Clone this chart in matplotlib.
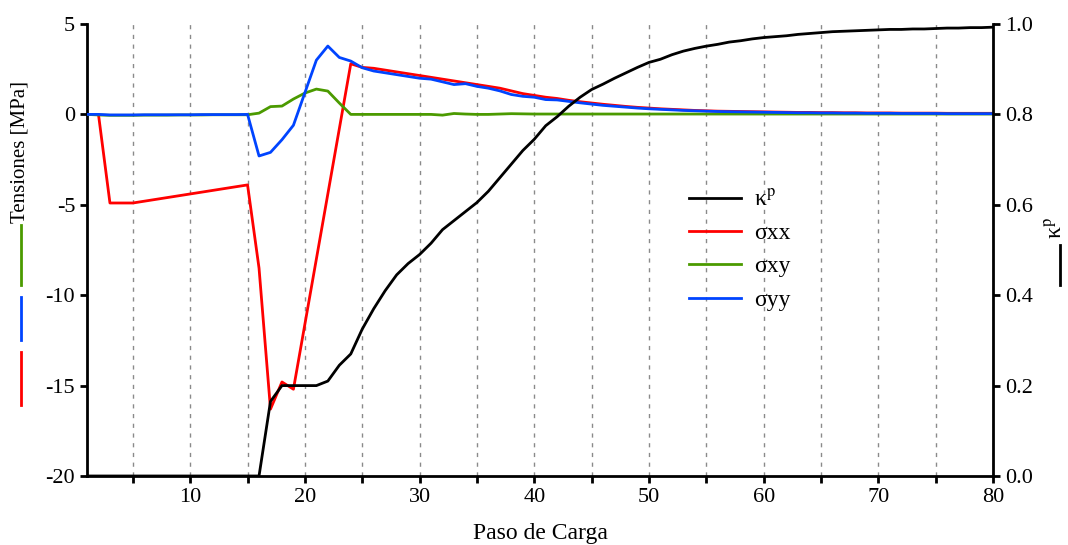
import matplotlib
matplotlib.use("Agg")
import matplotlib.pyplot as plt
from matplotlib.lines import Line2D
import numpy as np

plt.rcParams['font.family'] = ['Liberation Serif', 'DejaVu Serif']
plt.rcParams['mathtext.fontset'] = 'stix'

# ---- data ----
paso = list(range(1, 81))

sigma_xx = [0, 0, -4.9, -4.9, -4.9, -4.8, -4.7, -4.6, -4.5, -4.4,
            -4.3, -4.2, -4.1, -4.0, -3.9, -8.5, -16.3, -14.8, -15.2, -11.6,
            -8.0, -4.4, -0.8, 2.8, 2.6, 2.55, 2.45, 2.35, 2.25, 2.15,
            2.05, 1.95, 1.85, 1.75, 1.65, 1.55, 1.45, 1.3, 1.15, 1.05,
            0.95, 0.88, 0.78, 0.70, 0.63, 0.56, 0.50, 0.44, 0.39, 0.35,
            0.31, 0.28, 0.25, 0.22, 0.20, 0.18, 0.17, 0.16, 0.15, 0.14,
            0.13, 0.12, 0.11, 0.11, 0.10, 0.10, 0.09, 0.09, 0.08, 0.08,
            0.08, 0.07, 0.07, 0.07, 0.07, 0.06, 0.06, 0.06, 0.06, 0.06]

sigma_xy = [0, -0.03, -0.05, -0.05, -0.05, -0.04, -0.04, -0.04, -0.03, -0.03,
            -0.03, -0.02, -0.02, -0.02, -0.02, 0.07, 0.43, 0.46, 0.85, 1.18,
            1.4, 1.29, 0.63, 0.0, 0.0, 0.0, 0.0, 0.0, 0.0, 0.0,
            0.0, -0.04, 0.05, 0.02, 0.0, 0.0, 0.02, 0.04, 0.03, 0.02,
            0.02, 0.02, 0.02, 0.02, 0.02, 0.02, 0.02, 0.02, 0.02, 0.02,
            0.02, 0.02, 0.02, 0.02, 0.02, 0.02, 0.02, 0.02, 0.02, 0.02,
            0.02, 0.02, 0.02, 0.02, 0.02, 0.02, 0.02, 0.02, 0.02, 0.02,
            0.02, 0.02, 0.02, 0.02, 0.02, 0.02, 0.02, 0.02, 0.02, 0.02]

sigma_yy = [0, 0, -0.03, -0.03, -0.03, -0.02, -0.02, -0.02, -0.02, -0.02,
            -0.01, -0.01, -0.01, -0.01, 0.0, -2.3, -2.1, -1.4, -0.6, 1.2,
            3.0, 3.78, 3.15, 2.95, 2.58, 2.4, 2.3, 2.2, 2.1, 2.0,
            1.95, 1.8, 1.65, 1.7, 1.55, 1.45, 1.3, 1.1, 1.0, 0.95,
            0.82, 0.80, 0.72, 0.64, 0.57, 0.50, 0.45, 0.40, 0.35, 0.31,
            0.28, 0.25, 0.22, 0.20, 0.18, 0.16, 0.15, 0.14, 0.13, 0.12,
            0.11, 0.10, 0.09, 0.09, 0.08, 0.08, 0.07, 0.07, 0.06, 0.06,
            0.06, 0.05, 0.05, 0.05, 0.05, 0.04, 0.04, 0.04, 0.04, 0.04]

kappa_p = [0, 0, 0, 0, 0, 0, 0, 0, 0, 0,
           0, 0, 0, 0, 0, 0, 0.165, 0.20, 0.20, 0.20,
           0.20, 0.21, 0.245, 0.27, 0.325, 0.37, 0.41, 0.445, 0.47, 0.49,
           0.515, 0.545, 0.565, 0.585, 0.605, 0.63, 0.66, 0.69, 0.72, 0.745,
           0.775, 0.795, 0.818, 0.838, 0.855, 0.867, 0.88, 0.892, 0.904, 0.915,
           0.922, 0.932, 0.94, 0.946, 0.951, 0.955, 0.96, 0.963, 0.967, 0.97,
           0.972, 0.974, 0.977, 0.979, 0.981, 0.983, 0.984, 0.985, 0.986, 0.987,
           0.988, 0.988, 0.989, 0.989, 0.990, 0.991, 0.991, 0.992, 0.992, 0.993]

x_ticks = [10, 20, 30, 40, 50, 60, 70, 80]
y_ticks_left = [-20, -15, -10, -5, 0, 5]
y_ticks_right = [0.0, 0.2, 0.4, 0.6, 0.8, 1.0]

RED = '#ff0000'
GREEN = '#4b9a00'
BLUE = '#0044ff'

fig = plt.figure(figsize=(10.68, 5.45), dpi=100)
ax = fig.add_axes([87/1068, 1-476/545, (993-87)/1068, (476-24)/545])
ax2 = ax.twinx()

lw = 2.0
ax.plot(paso, sigma_xx, color=RED, lw=lw, zorder=3)
ax.plot(paso, sigma_xy, color=GREEN, lw=lw, zorder=3)
ax.plot(paso, sigma_yy, color=BLUE, lw=lw, zorder=4)
ax2.plot(paso, kappa_p, color='black', lw=lw, zorder=5)

ax.set_xlim(1, 80)
ax.set_ylim(-20, 5)
ax2.set_ylim(0, 1)

ax.set_xticks(x_ticks)
ax.set_xticks(list(range(5, 81, 10)), minor=True)
ax.set_yticks(y_ticks_left)
ax.set_yticklabels([f"{v:d}" for v in y_ticks_left])
ax2.set_yticks(y_ticks_right)
ax2.set_yticklabels([f"{v:.1f}" for v in y_ticks_right])

# vertical dashed grid
for gx in range(5, 81, 5):
    ax.axvline(gx, color='#8a8a8a', lw=1.0, ls=(0, (3, 4)), zorder=1)

for a in (ax, ax2):
    a.spines['top'].set_visible(False)
    for s in a.spines.values():
        s.set_linewidth(2.0)
ax.spines['right'].set_visible(False)
ax2.spines['left'].set_visible(False)
ax2.spines['bottom'].set_visible(False)

ax.tick_params(axis='both', which='both', direction='out', width=2, length=5, labelsize=16)
ax.tick_params(axis='x', which='minor', length=5, width=2)
ax2.tick_params(axis='y', direction='out', width=2, length=5, labelsize=16)

ax.set_xlabel('Paso de Carga', fontsize=17, labelpad=12)

# left y label with coloured markers
fig.text(20/1068, 1-152/545, 'Tensiones [MPa]', rotation=90, fontsize=15,
         ha='center', va='center')
for (y0, y1, c) in [(225, 285, GREEN), (297, 340, BLUE), (352, 405, RED)]:
    fig.add_artist(Line2D([21/1068, 21/1068], [1-y0/545, 1-y1/545],
                          color=c, lw=2.0, transform=fig.transFigure))

# right y label
fig.text(1056/1068, 1-228/545, 'κ$^{\\rm p}$', rotation=90, fontsize=17,
         ha='center', va='center')
fig.add_artist(Line2D([1060/1068, 1060/1068], [1-245/545, 1-285/545],
                      color='black', lw=2.0, transform=fig.transFigure))

handles = [Line2D([], [], color='black', lw=lw),
           Line2D([], [], color=RED, lw=lw),
           Line2D([], [], color=GREEN, lw=lw),
           Line2D([], [], color=BLUE, lw=lw)]
labels = ['κ$^{\\rm p}$', 'σxx', 'σxy', 'σyy']
leg = ax2.legend(handles, labels, loc='upper left',
                 bbox_to_anchor=(668/1068, 1-168/545), bbox_transform=fig.transFigure,
                 frameon=False, fontsize=17, handlelength=2.2, labelspacing=0.5,
                 handletextpad=0.55)

fig.savefig('out.png', dpi=100)
